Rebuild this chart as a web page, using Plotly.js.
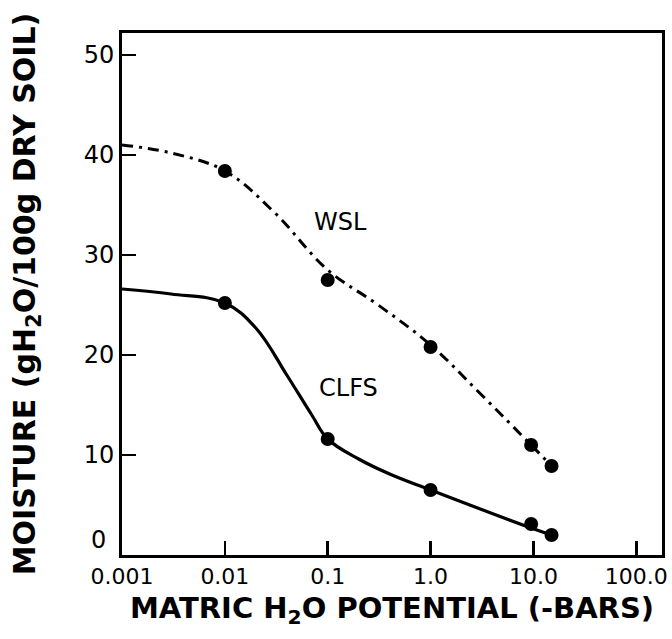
<!DOCTYPE html>
<html>
<head>
<meta charset="utf-8">
<script src="https://cdn.plot.ly/plotly-3.0.1.min.js"></script>
<style>html,body{margin:0;padding:0;background:#fff;}#chart{width:672px;height:639px;}</style>
</head>
<body>
<div id="chart"></div>
<script>
const wslX = [0.01, 0.1, 1.0, 9.5, 15];
const wslY = [38.4, 27.5, 20.8, 11.0, 8.9];
const clfsX = [0.01, 0.1, 1.0, 9.5, 15];
const clfsY = [25.2, 11.6, 6.5, 3.1, 2.0];
// Fitted curves as drawn in the picture
const wslCurveX = [0.001, 0.003, 0.01, 0.03, 0.1, 0.3, 1.0, 3.0, 9.5, 15];
const wslCurveY = [41.0, 40.2, 38.4, 34.3, 28.5, 25.1, 21.0, 16.2, 11.0, 8.9];
const clfsCurveX = [0.001, 0.003, 0.01, 0.02, 0.04, 0.07, 0.1, 0.2, 0.4, 1.0, 9.5, 15];
const clfsCurveY = [26.6, 26.1, 25.2, 22.7, 18.0, 14.0, 11.6, 9.6, 8.1, 6.5, 2.7, 2.0];
const xTickVals = [0.001, 0.01, 0.1, 1, 10, 100];
const xTickText = ['0.001', '0.01', '0.1', '1.0', '10.0', '100.0'];
const yTickVals = [0, 10, 20, 30, 40, 50];
const yTickText = ['', '10', '20', '30', '40', '50'];
const yZeroLabel = '0';
const labels = [{name: 'WSL', x: 0.134, y: 33.3}, {name: 'CLFS', x: 0.16, y: 16.7}];

const FONT = 'DejaVu Sans, Arial, sans-serif';
const traces = [
  {x: wslCurveX, y: wslCurveY, mode: 'lines', line: {shape: 'spline', smoothing: 1.1, color: '#000', width: 3, dash: '11px,6px,3px,6px'}, hoverinfo: 'skip'},
  {x: clfsCurveX, y: clfsCurveY, mode: 'lines', line: {shape: 'spline', smoothing: 1.1, color: '#000', width: 3.2}, hoverinfo: 'skip'},
  {x: wslX, y: wslY, mode: 'markers', marker: {color: '#000', size: 14}},
  {x: clfsX, y: clfsY, mode: 'markers', marker: {color: '#000', size: 14}}
];
const annotations = labels.map(l => ({
  x: Math.log10(l.x), y: l.y, xref: 'x', yref: 'y', text: l.name, showarrow: false,
  font: {size: 24, family: FONT, color: '#000'}
}));
// the "0" tick label sits raised above the x-axis labels, as in the original
annotations.push({
  x: 0, xref: 'paper', y: yTickVals[0], yref: 'y', text: yZeroLabel, showarrow: false,
  xanchor: 'right', yanchor: 'middle', xshift: -14, yshift: 15,
  font: {size: 24, family: FONT, color: '#000'}
});
const layout = {
  width: 672, height: 639,
  margin: {l: 122, r: 10, t: 33, b: 84},
  paper_bgcolor: '#fff', plot_bgcolor: '#fff',
  showlegend: false,
  font: {family: FONT, color: '#000'},
  xaxis: {
    type: 'log', range: [-3, 2.25],
    tickvals: xTickVals, ticktext: xTickText,
    ticks: 'inside', ticklen: 14, tickwidth: 2.5, tickcolor: '#000',
    showline: true, linewidth: 3, linecolor: '#000', mirror: true,
    showgrid: false, zeroline: false,
    tickfont: {size: 22, family: FONT},
    title: {text: '<b>MATRIC H<sub>2</sub>O POTENTIAL (-BARS)</b>', font: {size: 29, family: FONT}, standoff: 10}
  },
  yaxis: {
    range: [0, 52.2],
    tickvals: yTickVals, ticktext: yTickText,
    ticks: 'inside', ticklen: 14, tickwidth: 2.5, tickcolor: '#000',
    showline: true, linewidth: 3, linecolor: '#000', mirror: true,
    showgrid: false, zeroline: false,
    tickfont: {size: 24, family: FONT},
    title: {text: '<b>MOISTURE (gH<sub>2</sub>O/100g DRY SOIL)</b>', font: {size: 30, family: FONT}, standoff: 40}
  },
  annotations: annotations
};
Plotly.newPlot('chart', traces, layout, {displayModeBar: false, staticPlot: true});
</script>
</body>
</html>
